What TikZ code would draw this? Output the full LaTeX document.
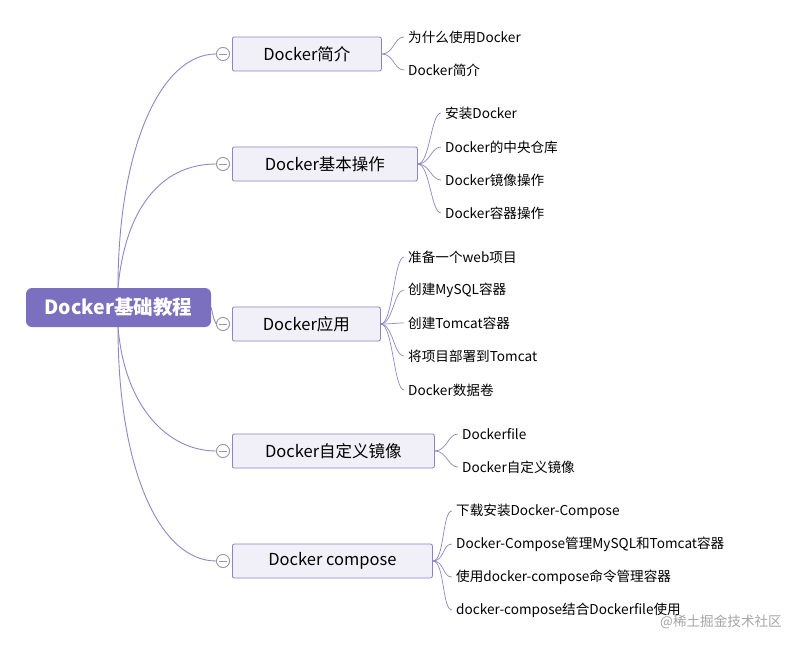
\documentclass[tikz,border=0pt]{standalone}
\usepackage{fontspec}
\setmainfont{Noto Sans CJK SC}
\begin{document}
\begin{tikzpicture}[x=1pt,y=-1pt,
  ln/.style={draw=lc,line width=0.9pt},
  branch/.style={draw=lb,fill=fb,rounded corners=2pt,line width=0.8pt,minimum height=34pt,anchor=west,inner sep=0pt,font=\fontsize{16.5}{18}\selectfont,align=center},
  leaf/.style={anchor=west,inner sep=0pt,font=\fontsize{13.6}{15}\selectfont},
  tog/.style={circle,draw=gray!80,fill=white,minimum size=13pt,inner sep=0pt,line width=0.8pt}]
\definecolor{lc}{HTML}{8F86C9}
\definecolor{lb}{HTML}{8C82C8}
\definecolor{fb}{HTML}{F1F0F8}
\definecolor{rootc}{HTML}{7B6FBF}
\useasboundingbox (0,0) rectangle (800,650);
\fill[white] (0,0) rectangle (800,650);
\node[fill=rootc,rounded corners=6pt,minimum width=185pt,minimum height=39pt,text=white,font=\fontsize{19.5}{21}\selectfont\bfseries,inner sep=0pt] (root) at (118.5,307.5) {Docker基础教程};
\coordinate (rt) at (118,288);
\coordinate (rb) at (118,327);
\foreach \n/\w/\cy/\t in {b1/149/54/Docker简介, b2/185/164/Docker基本操作, b3/148/324/Docker应用, b4/202/451/Docker自定义镜像, b5/200/561/Docker compose}{
  \node[branch,minimum width=\w pt] (\n) at (232,\cy) {\t};
  \node[tog] (\n c) at (223,\cy) {};
}
\draw[ln] (rt) .. controls (118,150) and (160,54) .. (b1c.west);
\draw[ln] (rt) .. controls (125,210) and (160,164) .. (b2c.west);
\draw[ln] (root.east) .. controls (214,320) .. (b3c.west);
\draw[ln] (rb) .. controls (125,410) and (170,451) .. (b4c.west);
\draw[ln] (rb) .. controls (118,470) and (160,561) .. (b5c.west);
\foreach \n in {b1,b2,b3,b4,b5}{\node[tog] at (\n c) {}; \draw[gray!80,line width=0.8pt] ([xshift=-4pt]\n c.center) -- ([xshift=4pt]\n c.center);}
\foreach \b/\x/\y/\t/\k in {b1/408/37/为什么使用Docker/a, b1/408/70/Docker简介/b,
 b2/445/113/安装Docker/a, b2/445/147/Docker的中央仓库/b, b2/445/180/Docker镜像操作/c, b2/445/213/Docker容器操作/d,
 b3/408/257/准备一个web项目/a, b3/408/290/创建MySQL容器/b, b3/408/323/创建Tomcat容器/c, b3/408/356/将项目部署到Tomcat/d, b3/408/390/Docker数据卷/e,
 b4/462/434/Dockerfile/a, b4/462/467/Docker自定义镜像/b,
 b5/456/511/下载安装Docker-Compose/a, b5/456/544/Docker-Compose管理MySQL和Tomcat容器/b, b5/456/577/使用docker-compose命令管理容器/c, b5/456/610/docker-compose结合Dockerfile使用/d}{
  \node[leaf] (\b\k) at (\x,\y) {\t};
  \draw[ln,line width=0.7pt] (\b.east) .. controls ([xshift=12pt]\b.east) and ([xshift=-14pt]\b\k.west) .. ([xshift=-4pt]\b\k.west);
}
\node[anchor=east,text=gray!70,font=\fontsize{13.6}{15}\selectfont,inner sep=0pt] (wm) at (782,622) {@稀土掘金技术社区};
\end{tikzpicture}
\end{document}
